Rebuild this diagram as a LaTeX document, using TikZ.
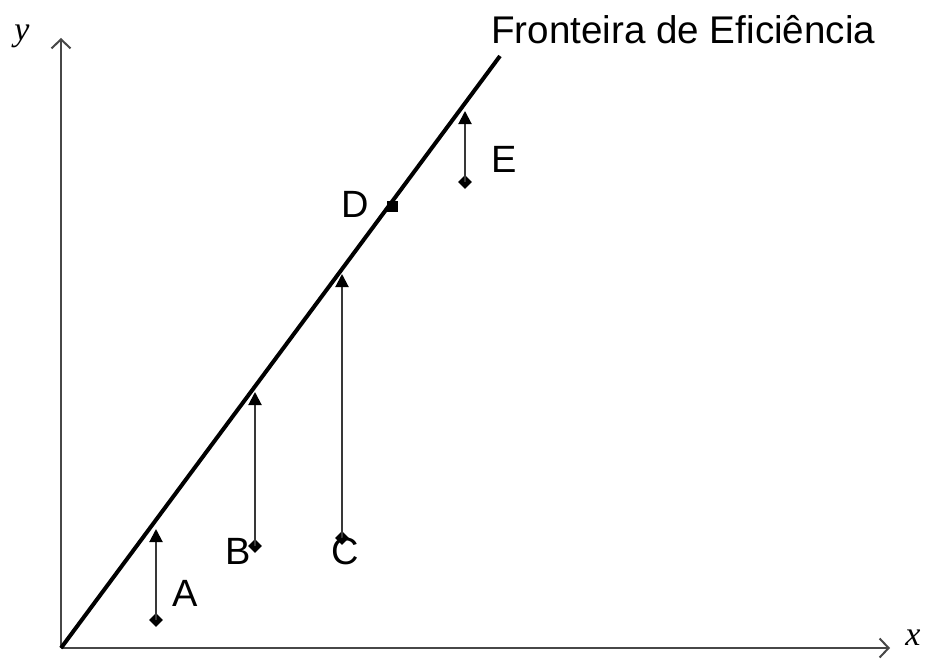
\documentclass[tikz,border=0pt]{standalone}
\usepackage{fontspec}
\setmainfont{Liberation Sans}
\newfontfamily\serifit{Liberation Serif}
\usetikzlibrary{arrows.meta,shapes.geometric}
\begin{document}
\begin{tikzpicture}[x=1pt,y=-1pt,
  axis/.style={line width=2.2pt,draw=black!72,-{Straight Barb[length=9pt,width=19pt,line width=2pt]}},
  frontier/.style={line width=4pt,black},
  vec/.style={line width=2pt,draw=black!78,-{Triangle[length=13pt,width=13pt,fill=black,color=black]}},
  dot/.style={diamond,fill=black,inner sep=0pt,minimum size=14pt},
  sq/.style={rectangle,fill=black,inner sep=0pt,minimum size=11pt},
  lbl/.style={font=\fontsize{38}{40}\selectfont,inner sep=0pt},
  axlbl/.style={font=\serifit\itshape\fontsize{34}{36}\selectfont,inner sep=0pt}]
\useasboundingbox (0,0) rectangle (925,658);
\coordinate (O) at (61,648);
\coordinate (Ytop) at (61,38);
\coordinate (Xend) at (890,648);
\coordinate (Fend) at (500,56);
\draw[axis] (O) -- (Ytop);
\draw[axis] (O) -- (Xend);
\draw[frontier] (O) -- (Fend);
\node[axlbl] (ylab) at (22,36) {y};
\node[axlbl] (xlab) at (913,638) {x};
\node[font=\fontsize{38.6}{40}\selectfont,inner sep=0pt,anchor=base west] (title) at (491,44) {Fronteira de Eficiência};
% points
\node[dot] (pA) at (156,620) {};
\node[dot] (pB) at (255,546) {};
\node[dot] (pC) at (342,538) {};
\node[sq] (pD) at (392,206) {};
\node[dot] (pE) at (465,182) {};
\coordinate (tA) at (156,529);
\coordinate (tB) at (255,392);
\coordinate (tC) at (342,274);
\coordinate (tE) at (465,111);
\draw[vec] (pA.center) -- (tA);
\draw[vec] (pB.center) -- (tB);
\draw[vec] (pC.center) -- (tC);
\draw[vec] (pE.center) -- (tE);
\node[lbl] (lA) at (185,593) {A};
\node[lbl] (lB) at (238,551) {B};
\node[lbl] (lC) at (345,551) {C};
\node[lbl] (lD) at (355,204) {D};
\node[lbl] (lE) at (504,159) {E};
\end{tikzpicture}
\end{document}
